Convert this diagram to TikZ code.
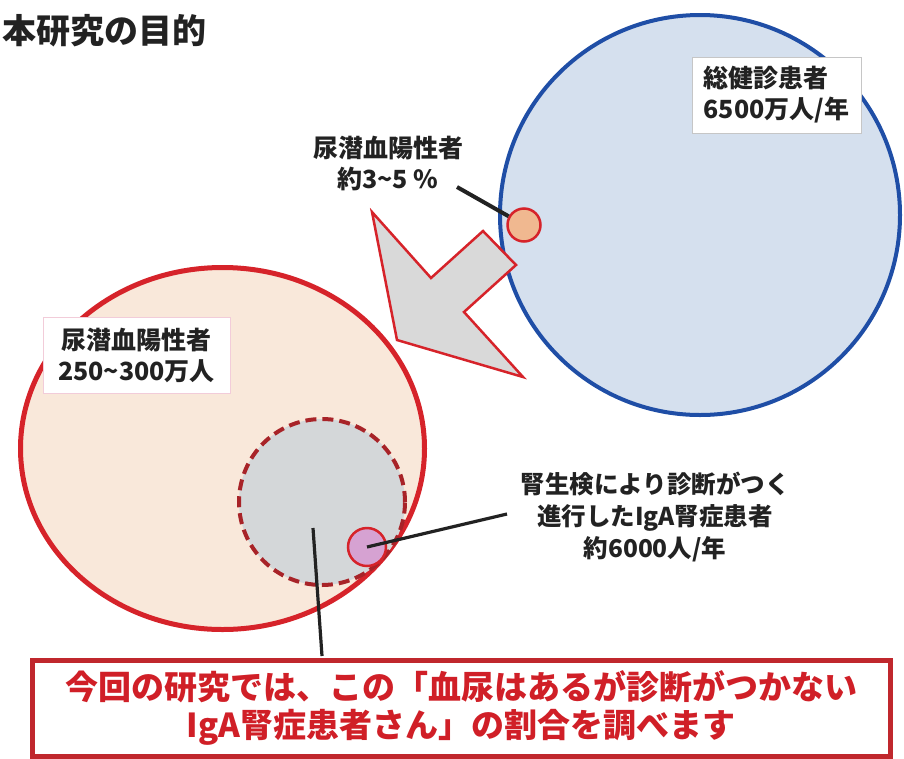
\documentclass[tikz,border=0pt]{standalone}
\usepackage{fontspec}
\setmainfont{Noto Sans CJK JP}
\usetikzlibrary{shapes.geometric}
\definecolor{bluefill}{HTML}{D5E0EE}
\definecolor{blueline}{HTML}{1F4EA6}
\definecolor{pinkfill}{HTML}{F9E8DA}
\definecolor{redline}{HTML}{D6232A}
\definecolor{darkred}{HTML}{A82328}
\definecolor{grayfill}{HTML}{D4D7D9}
\definecolor{arrowfill}{HTML}{D9D9D9}
\definecolor{orangefill}{HTML}{F0B890}
\definecolor{purplefill}{HTML}{D6A2D2}
\definecolor{txt}{HTML}{222222}
\definecolor{redtxt}{HTML}{D01F27}
\definecolor{boxred}{HTML}{C0272D}
\tikzset{
  lbl/.style={text=txt, font=\bfseries\fontsize{25}{31}\selectfont, align=center, inner sep=0pt},
  whitebox/.style={fill=white, line width=1pt, inner sep=0pt, text=txt,
     font=\bfseries\fontsize{25}{31}\selectfont},
  leader/.style={draw=txt, line width=3.2pt},
  smallcirc/.style={circle, draw=redline, line width=2.5pt, inner sep=0pt},
}
\begin{document}
\begin{tikzpicture}[x=1pt,y=-1pt]
\useasboundingbox (0,0) rectangle (904,758);
% title
\node[anchor=east, text=txt, font=\bfseries\fontsize{34}{40}\selectfont, inner sep=0pt] (title) at (207,31) {本研究の目的};
% blue circle
\node[circle, draw=blueline, fill=bluefill, line width=4pt, minimum size=400pt, inner sep=0pt] (blue) at (700,215) {};
\node[smallcirc, fill=orangefill, minimum size=33pt] (orange) at (524,225) {};
\node[lbl] (lblA) at (388,163) {尿潜血陽性者\\約3\textasciitilde 5 \%};
\coordinate (lblAend) at (457,187);
\draw[leader, line width=4pt] (lblAend) -- (orange);
% arrow
\draw[draw=redline, fill=arrowfill, line width=2.5pt, line join=miter]
  (372,212) -- (431,278) -- (483,231) -- (516,265) -- (464,312) -- (523,377) -- (397,340) -- cycle;
% pink ellipse
\node[ellipse, draw=redline, fill=pinkfill, line width=5pt, minimum width=404pt, minimum height=362pt, inner sep=0pt] (pink) at (222.5,448.5) {};
\node[circle, draw=darkred, fill=grayfill, line width=4pt, dash pattern=on 11pt off 6pt, minimum size=166pt, inner sep=0pt] (dashc) at (322,502) {};
\node[smallcirc, fill=purplefill, minimum size=38pt] (purple) at (367,547) {};
% boxes
\node[whitebox, draw=gray!45, minimum width=169pt, minimum height=76pt, align=left] (boxA) at (776.5,95) {総健診患者\\6500万人/年};
\node[whitebox, draw=purple!20, minimum width=187pt, minimum height=76pt, align=center] (boxB) at (136.5,355) {尿潜血陽性者\\250\textasciitilde 300万人};
% label right
\node[lbl, font=\bfseries\fontsize{24.5}{32}\selectfont] (lblC) at (655,517) {腎生検により診断がつく\\進行したIgA腎症患者\\約6000人/年};
\coordinate (lblCend) at (507,514);
\draw[leader] (purple.center) -- (lblCend);
% bottom box
\node[draw=boxred, line width=5pt, fill=white, minimum width=858pt, minimum height=96pt, inner sep=0pt,
  text=redtxt, font=\bfseries\fontsize{33}{38}\selectfont, align=center] (bottom) at (461,708)
  {今回の研究では、この「血尿はあるが診断がつかない\\IgA腎症患者さん」の割合を調べます};
\coordinate (dashin) at (313,528);
\coordinate (bottomtop) at (322,656);
\draw[leader] (dashin) -- (bottomtop);
\end{tikzpicture}
\end{document}
